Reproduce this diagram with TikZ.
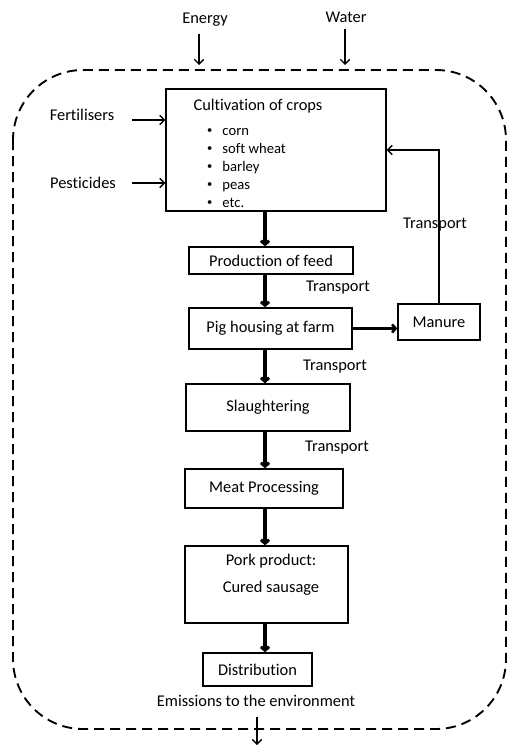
\documentclass[tikz,border=0pt]{standalone}
\usepackage{fontspec}
\setmainfont{Carlito}[Ligatures=NoCommon]
\usetikzlibrary{arrows.meta, positioning}

\tikzset{
  stage/.style={draw, line width=1.2pt, inner sep=0pt, font=\fontsize{14}{17}\selectfont},
  lbl/.style={inner sep=0pt, font=\fontsize{14}{17}\selectfont},
  item/.style={inner sep=0pt, anchor=base west, font=\fontsize{12.5}{15}\selectfont},
  flow/.style={-{Straight Barb[length=3pt,width=7pt]}, line width=2.6pt},
  inflow/.style={-{Straight Barb[length=4pt,width=8pt]}, line width=1.1pt},
}
\newcommand{\cropdot}{\raisebox{1.2pt}{\fontsize{9}{9}\selectfont\textbullet}}

\begin{document}
\begin{tikzpicture}[x=0.3mm, y=-0.3mm]
  \useasboundingbox (0,0) rectangle (508,747);
  % --- System boundary ---
  \draw[line width=1.6pt, dash pattern=on 3mm off 1.8mm, rounded corners=21mm] (13,70) rectangle (506,729);

  % --- Inputs ---
  \node[lbl] (energy) at (205,20) {Energy};
  \node[lbl] (water) at (346,17) {Water};
  \node[lbl] (fert) at (82,115) {Fertilisers};
  \node[lbl] (pest) at (83,183) {Pesticides};
  \coordinate (energyin) at (199,65);
  \coordinate (waterin) at (345,65);
  \coordinate (fertin) at (132,120);
  \coordinate (pestin) at (132,183);

  % --- Crops ---
  \node[stage, minimum width=66mm, minimum height=36.6mm] (crops) at (276,150) {};
  \node[lbl] (cropstitle) at (258,106) {Cultivation of crops};
  \foreach \crop [count=\i] in {corn, soft wheat, barley, peas, etc.}
    \node[item] (crop\i) at (207,117+18*\i) {\cropdot\hspace{3mm}\crop};

  % --- Process chain ---
  \node[stage, minimum width=49.2mm, minimum height=8.1mm] (feed) at (271,260.5) {Production of feed};
  \node[stage, minimum width=48.9mm, minimum height=12.3mm] (pig) at (270.5,328.5) {Pig housing at farm};
  \node[stage, minimum width=24.6mm, minimum height=10.8mm] (manure) at (439,322) {Manure};
  \node[stage, minimum width=49.2mm, minimum height=14.1mm] (slaughter) at (268,407.5) {Slaughtering};
  \node[stage, minimum width=47.4mm, minimum height=11.7mm] (meat) at (264,488.5) {Meat Processing};
  \node[stage, minimum width=48.9mm, minimum height=23.1mm] (pork) at (266.5,584.5) {};
  \node[lbl, align=center] (porktext) at (271,574.5) {Pork product:\\[6pt]Cured sausage};
  \node[stage, minimum width=32.7mm, minimum height=9.9mm] (distrib) at (257.5,669.5) {Distribution};
  \node[lbl] (emis) at (256,701) {Emissions to the environment};
  \coordinate (emisout) at (257,745);

  % --- Transport labels ---
  \node[lbl] (trback) at (435,225) {Transport};
  \node[lbl] (tr1) at (338,288) {Transport};
  \node[lbl] (tr2) at (335,367) {Transport};
  \node[lbl] (tr3) at (337,448) {Transport};

  % --- Arrows ---
  \coordinate (spine) at (265,0);
  \draw[flow] (crops.south -| spine) -- (feed.north -| spine);
  \draw[flow] (feed.south -| spine) -- (pig.north -| spine);
  \draw[flow] (pig.south -| spine) -- (slaughter.north -| spine);
  \draw[flow] (slaughter.south -| spine) -- (meat.north -| spine);
  \draw[flow] (meat.south -| spine) -- (pork.north -| spine);
  \draw[flow] (pork.south -| spine) -- (distrib.north -| spine);
  \draw[flow, line width=2.2pt] (pig.east) -- (pig.east -| manure.west);
  \draw[inflow] (manure.north) |- (crops.east);
  \draw[inflow, shorten <=2mm] (energyin |- energy.south) -- (energyin);
  \draw[inflow, shorten <=2mm] (waterin |- water.south) -- (waterin);
  \draw[inflow] (fertin) -- (fertin -| crops.west);
  \draw[inflow] (pestin) -- (pestin -| crops.west);
  \draw[inflow, shorten <=3mm] (emisout |- emis.south) -- (emisout);
\end{tikzpicture}
\end{document}
